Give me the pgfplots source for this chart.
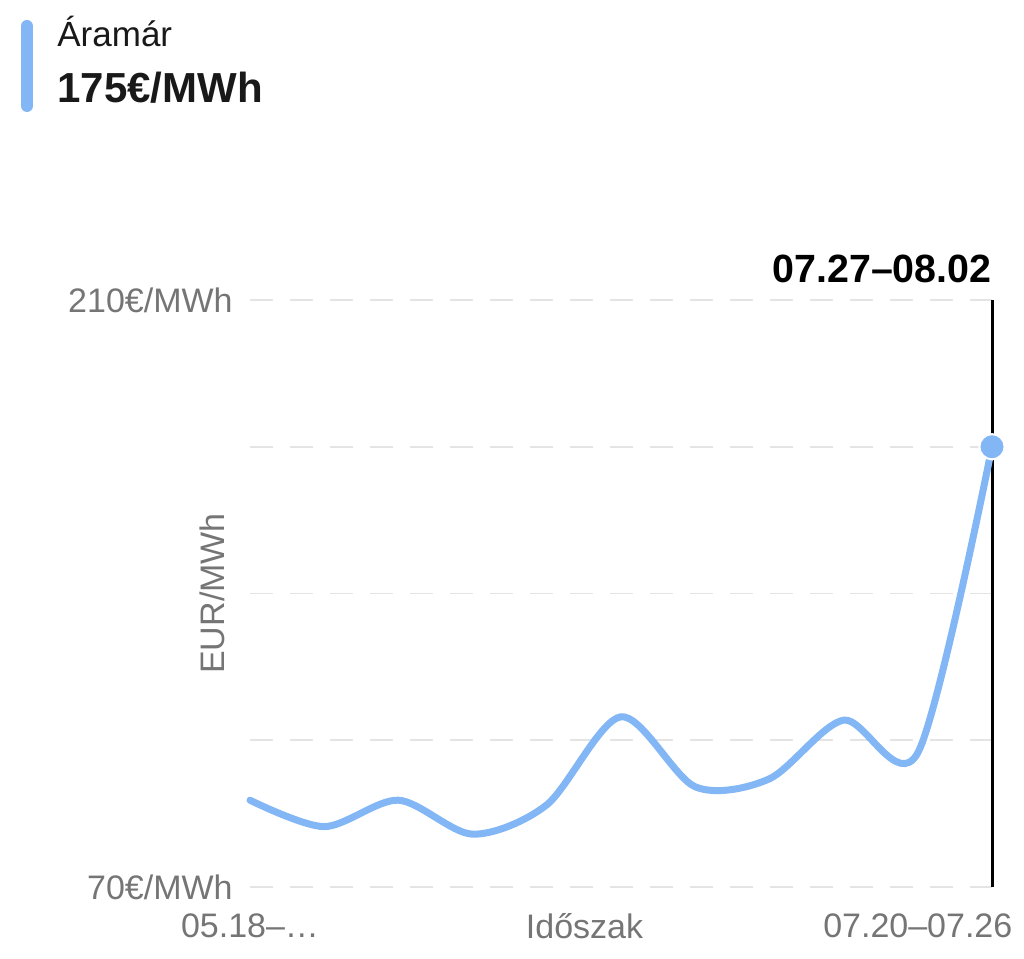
\documentclass[border=0pt]{standalone}
\usepackage{fontspec}
\setmainfont{Liberation Sans}
\usepackage{pgfplots}
\pgfplotsset{compat=1.18}
\definecolor{lineblue}{RGB}{130,182,245}
\definecolor{lblgray}{RGB}{117,117,117}
\definecolor{gridgray}{RGB}{228,228,228}
\definecolor{txtblack}{RGB}{25,25,25}
\begin{document}
\begin{tikzpicture}[x=1pt,y=1pt]
\useasboundingbox (0,0) rectangle (512,479.5);
% header legend
\draw[line width=6pt, line cap=round, lineblue] (13.5,466.5) -- (13.5,426.5);
\node[anchor=base west, inner sep=0pt, text=txtblack, font=\fontsize{17.5}{20}\selectfont] at (28.5,456) {Áramár};
\node[anchor=base west, inner sep=0pt, text=txtblack, font=\fontsize{21}{24}\selectfont\bfseries] at (28.5,428) {175€/MWh};
\begin{axis}[
  at={(125pt,36pt)}, anchor=south west,
  scale only axis, width=371pt, height=293.5pt,
  xmin=0, xmax=10, ymin=70, ymax=210,
  clip=false,
  axis line style={draw=none},
  major tick length=0pt,
  ytick={70,105,140,175,210},
  yticklabels={70€/MWh,,,,210€/MWh},
  xtick={0,9},
  xticklabels={05.18–…,07.20–07.26},
  ymajorgrids,
  grid style={gridgray, line width=0.9pt, dash pattern=on 11.5pt off 8.5pt},
  yticklabel style={anchor=east, inner sep=0pt, xshift=-8.5pt, text=lblgray, font=\fontsize{17}{20}\selectfont},
  xticklabel style={anchor=north, inner sep=0pt, yshift=-13pt, text=lblgray, font=\fontsize{17}{20}\selectfont},
  xlabel={Időszak},
  xlabel style={at={(axis description cs:0.4508,0)}, anchor=north, inner sep=0pt, yshift=-13pt, text=lblgray, font=\fontsize{17}{20}\selectfont},
  ylabel={EUR/MWh},
  ylabel style={at={(axis description cs:-0.0512,0.5)}, anchor=center, inner sep=0pt, text=lblgray, font=\fontsize{17}{20}\selectfont},
]
\addplot[black, line width=1.5pt] coordinates {(10,70) (10,210)};
\addplot[lineblue, line width=3.5pt, smooth, line cap=round] coordinates {
(0,90.7) (1,84.4) (2,90.7) (3,82.6) (4,89.6) (5,110.6) (6,93.9) (7,95.8) (8,109.8) (9,102.0) (10,175)
};
\addplot[only marks, mark=*, mark size=6.3pt, mark options={fill=lineblue, draw=white, line width=1pt}] coordinates {(10,175)};
\node[anchor=base east, inner sep=0pt, text=black, font=\fontsize{19.7}{22}\selectfont\bfseries] at (axis cs:10,210) [yshift=8.5pt] {07.27–08.02};
\end{axis}
\end{tikzpicture}
\end{document}
